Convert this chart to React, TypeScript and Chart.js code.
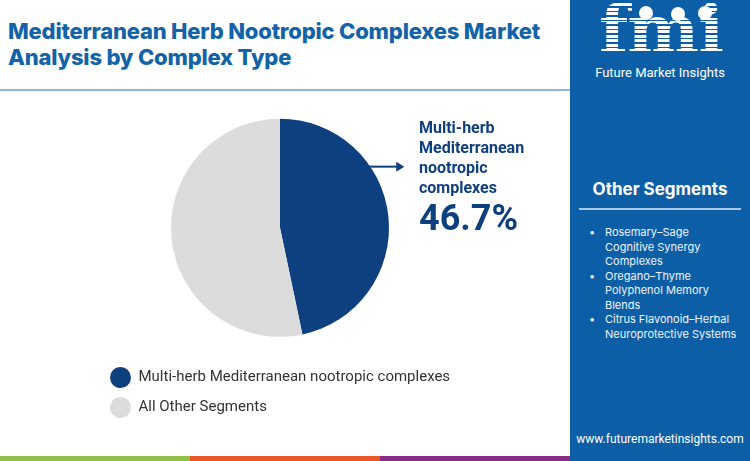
import React, { useEffect, useRef } from "react";
import { Chart, registerables } from "chart.js";

Chart.register(...registerables);

const titleLines = ["Mediterranean Herb Nootropic Complexes Market", "Analysis by Complex Type"];
const categories = ["Multi-herb Mediterranean nootropic complexes", "All Other Segments"];
const shares = [46.7, 53.3];
const sliceColors = ["#0e3f7f", "#dcdcdc"];
const calloutLines = ["Multi-herb", "Mediterranean", "nootropic", "complexes"];
const calloutValue = "46.7%";
const otherSegments = [
  ["Rosemary–Sage", "Cognitive Synergy", "Complexes"],
  ["Oregano–Thyme", "Polyphenol Memory", "Blends"],
  ["Citrus Flavonoid–Herbal", "Neuroprotective Systems"],
];

const NAVY = "#0e3f7f";
const SIDEBAR = "#0c5fa6";

const arrowPlugin = {
  id: "calloutArrow",
  afterDatasetsDraw(chart: any) {
    const meta = chart.getDatasetMeta(0);
    const arc = meta.data[0];
    if (!arc) return;
    const { x, y, outerRadius } = arc.getProps(["x", "y", "outerRadius"], true);
    const ang = -0.595;
    const sx = x + outerRadius * Math.cos(ang);
    const sy = y + outerRadius * Math.sin(ang);
    const ex = sx + 34;
    const ctx = chart.ctx;
    ctx.save();
    ctx.strokeStyle = NAVY;
    ctx.fillStyle = NAVY;
    ctx.lineWidth = 2;
    ctx.beginPath();
    ctx.moveTo(sx - 2, sy);
    ctx.lineTo(ex - 6, sy);
    ctx.stroke();
    ctx.beginPath();
    ctx.moveTo(ex, sy);
    ctx.lineTo(ex - 8, sy - 5);
    ctx.lineTo(ex - 8, sy + 5);
    ctx.closePath();
    ctx.fill();
    ctx.restore();
  },
};

function PieChart() {
  const ref = useRef<HTMLCanvasElement | null>(null);
  useEffect(() => {
    if (!ref.current) return;
    const chart = new Chart(ref.current, {
      type: "pie",
      data: {
        labels: categories,
        datasets: [
          {
            data: shares,
            backgroundColor: sliceColors,
            borderWidth: 0,
            radius: 109,
          } as any,
        ],
      },
      options: {
        animation: false,
        responsive: false,
        devicePixelRatio: 1,
        layout: { padding: { top: 10.5, left: 95, right: 105, bottom: 0 } },
        plugins: {
          tooltip: { enabled: false },
          legend: {
            position: "bottom",
            align: "start",
            labels: {
              usePointStyle: true,
              pointStyle: "circle",
              pointStyleWidth: 21,
              padding: 15,
              color: "#333333",
              font: { family: "Roboto", size: 15 },
            },
          } as any,
        },
      },
      plugins: [arrowPlugin],
    });
    return () => chart.destroy();
  }, []);
  return (
    <canvas
      ref={ref}
      width={570}
      height={335}
      style={{ position: "absolute", left: 0, top: 90, width: 570, height: 335 }}
    />
  );
}

export default function App() {
  return (
    <div
      style={{
        position: "fixed",
        left: 0,
        top: 0,
        width: 750,
        height: 461,
        background: "#ffffff",
        overflow: "hidden",
        fontFamily: "Roboto, sans-serif",
      }}
    >
      <div
        style={{
          position: "absolute",
          left: 8,
          top: 18,
          width: 560,
          fontFamily: "Inter, sans-serif",
          fontWeight: 800,
          fontSize: 22,
          lineHeight: "26px",
          color: "#1263a8",
          letterSpacing: -0.2,
        }}
      >
        {titleLines.map((l, i) => (
          <div key={i} style={{ whiteSpace: "nowrap" }}>{l}</div>
        ))}
      </div>
      <div style={{ position: "absolute", left: 0, top: 89, width: 570, height: 2, background: "#8fb6d9" }} />

      <PieChart />

      <div style={{ position: "absolute", left: 419, top: 118, color: NAVY, fontFamily: "Roboto, sans-serif" }}>
        {calloutLines.map((l, i) => (
          <div key={i} style={{ fontWeight: 700, fontSize: 16, lineHeight: "20px", whiteSpace: "nowrap" }}>{l}</div>
        ))}
        <div style={{ fontWeight: 700, fontSize: 36, lineHeight: "38px", marginTop: 1 }}>{calloutValue}</div>
      </div>

      <div style={{ position: "absolute", left: 0, top: 456, width: 190, height: 5, background: "#8dc044" }} />
      <div style={{ position: "absolute", left: 190, top: 456, width: 190, height: 5, background: "#e9582a" }} />
      <div style={{ position: "absolute", left: 380, top: 456, width: 190, height: 5, background: "#8a2b85" }} />

      <div style={{ position: "absolute", left: 570, top: 0, width: 180, height: 461, background: SIDEBAR }}>
        <div
          style={{
            position: "absolute",
            left: 24,
            top: -6,
            width: 134,
            textAlign: "center",
            fontFamily: "'DejaVu Serif', serif",
            fontWeight: 700,
            fontSize: 68,
            lineHeight: "70px",
            letterSpacing: -1,
            background: "repeating-linear-gradient(to bottom, #ffffff 0px, #ffffff 3px, transparent 3px, transparent 4.5px)",
            WebkitBackgroundClip: "text",
            backgroundClip: "text",
            color: "transparent",
          }}
        >
          fmi
        </div>
        {[[76, 13], [108, 14], [135, 13]].map(([cx, cy], i) => (
          <div
            key={i}
            style={{
              position: "absolute",
              left: cx - 7,
              top: cy - 7,
              width: 14,
              height: 14,
              borderRadius: 7,
              background: "#ffffff",
            }}
          />
        ))}
        <div
          style={{
            position: "absolute",
            left: 0,
            top: 65,
            width: 180,
            textAlign: "center",
            color: "#ffffff",
            fontFamily: "Roboto, sans-serif",
            fontSize: 13,
          }}
        >
          Future Market Insights
        </div>

        <div
          style={{
            position: "absolute",
            left: 0,
            top: 179,
            width: 180,
            textAlign: "center",
            color: "#ffffff",
            fontFamily: "Inter, sans-serif",
            fontWeight: 700,
            fontSize: 17,
          }}
        >
          Other Segments
        </div>
        <div style={{ position: "absolute", left: 9, top: 208, width: 162, height: 2, background: "#a9c7e4" }} />
        <div style={{ position: "absolute", left: 16, top: 225, color: "#eef4fb", fontFamily: "Inter, sans-serif", fontSize: 11 }}>
          {otherSegments.map((lines, i) => (
            <div key={i} style={{ position: "relative", paddingLeft: 19 }}>
              <span style={{ position: "absolute", left: 3, top: 0, lineHeight: "14.5px" }}>•</span>
              {lines.map((l, j) => (
                <div key={j} style={{ lineHeight: "14.5px", whiteSpace: "nowrap" }}>{l}</div>
              ))}
            </div>
          ))}
        </div>
        <div
          style={{
            position: "absolute",
            left: 0,
            top: 432,
            width: 180,
            textAlign: "center",
            color: "#ffffff",
            fontFamily: "Roboto, sans-serif",
            fontSize: 12,
          }}
        >
          www.futuremarketinsights.com
        </div>
      </div>
    </div>
  );
}
